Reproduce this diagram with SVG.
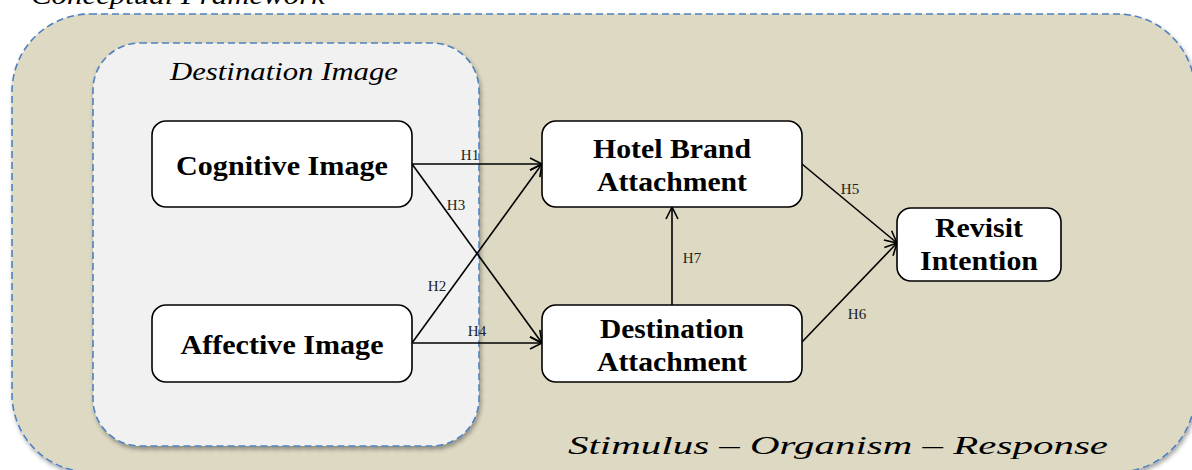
<svg xmlns="http://www.w3.org/2000/svg" width="1192" height="470" viewBox="0 0 1192 470" font-family="'Liberation Serif', 'Times New Roman', serif">
  <style>
    .frame { stroke: #4f81bd; stroke-width: 1.6; stroke-dasharray: 7 4; }
    .node { fill: #ffffff; stroke: #000000; stroke-width: 1.6; }
    .label { font-weight: bold; font-size: 27px; fill: #000000; text-anchor: middle; }
    .title { font-style: italic; font-size: 26px; fill: #000000; }
    .hyp { font-size: 15px; fill: #222222; text-anchor: middle; }
    .edge { stroke: #000000; stroke-width: 1.6; fill: none; marker-end: url(#arrow); }
  </style>
  <defs>
    <marker id="arrow" markerUnits="userSpaceOnUse" markerWidth="16" markerHeight="16" viewBox="0 0 16 16" refX="14" refY="8" orient="auto">
      <path d="M2,2 L14,8 L2,14" fill="none" stroke="#000000" stroke-width="1.6" stroke-linejoin="miter"/>
    </marker>
    <filter id="shadow" x="-5%" y="-5%" width="110%" height="112%">
      <feDropShadow dx="1.5" dy="3" stdDeviation="2" flood-color="#000000" flood-opacity="0.35"/>
    </filter>
  </defs>

  <rect width="1192" height="470" fill="#ffffff"/>

  <!-- page heading, clipped by the top edge -->
  <text class="title" x="31" y="4" textLength="294" lengthAdjust="spacingAndGlyphs">Conceptual Framework</text>

  <!-- S-O-R frame -->
  <g id="sor-frame">
    <rect class="frame" x="12" y="14" width="1183" height="458" rx="78" ry="78" fill="#ddd9c3" filter="url(#shadow)"/>
    <text class="title" x="568" y="454" textLength="540" lengthAdjust="spacingAndGlyphs">Stimulus – Organism – Response</text>
  </g>

  <!-- destination image group -->
  <g id="destination-image">
    <rect class="frame" x="93" y="43" width="386" height="403" rx="47" ry="47" fill="#f1f1f1" filter="url(#shadow)"/>
    <text class="title" x="170" y="80" textLength="228" lengthAdjust="spacingAndGlyphs">Destination Image</text>
  </g>

  <!-- connectors -->
  <g id="connectors">
    <line class="edge" x1="412" y1="164" x2="542" y2="164"/>
    <line class="edge" x1="412" y1="164" x2="542" y2="343"/>
    <line class="edge" x1="412" y1="343" x2="542" y2="164"/>
    <line class="edge" x1="412" y1="343" x2="542" y2="343"/>
    <line class="edge" x1="672" y1="305" x2="672" y2="207"/>
    <line class="edge" x1="802" y1="164" x2="897" y2="243"/>
    <line class="edge" x1="802" y1="342" x2="897" y2="243"/>
    <text class="hyp" x="470" y="160">H1</text>
    <text class="hyp" x="456" y="210">H3</text>
    <text class="hyp" x="437" y="291">H2</text>
    <text class="hyp" x="477" y="336">H4</text>
    <text class="hyp" x="692" y="263">H7</text>
    <text class="hyp" x="850" y="194">H5</text>
    <text class="hyp" x="857" y="319">H6</text>
  </g>

  <g id="cognitive-image">
    <rect class="node" x="152" y="121" width="260" height="86" rx="14" ry="14"/>
    <text class="label" x="282" y="175" textLength="212" lengthAdjust="spacingAndGlyphs">Cognitive Image</text>
  </g>

  <g id="affective-image">
    <rect class="node" x="152" y="305" width="260" height="77" rx="14" ry="14"/>
    <text class="label" x="282" y="354" textLength="203" lengthAdjust="spacingAndGlyphs">Affective Image</text>
  </g>

  <g id="hotel-brand-attachment">
    <rect class="node" x="542" y="121" width="260" height="86" rx="14" ry="14"/>
    <text class="label" x="672" y="158" textLength="158" lengthAdjust="spacingAndGlyphs">Hotel Brand</text>
    <text class="label" x="672" y="191" textLength="150" lengthAdjust="spacingAndGlyphs">Attachment</text>
  </g>

  <g id="destination-attachment">
    <rect class="node" x="542" y="305" width="260" height="77" rx="14" ry="14"/>
    <text class="label" x="672" y="338" textLength="144" lengthAdjust="spacingAndGlyphs">Destination</text>
    <text class="label" x="672" y="371" textLength="150" lengthAdjust="spacingAndGlyphs">Attachment</text>
  </g>

  <g id="revisit-intention">
    <rect class="node" x="897" y="208" width="164" height="73" rx="14" ry="14"/>
    <text class="label" x="979" y="237" textLength="88" lengthAdjust="spacingAndGlyphs">Revisit</text>
    <text class="label" x="979" y="270" textLength="118" lengthAdjust="spacingAndGlyphs">Intention</text>
  </g>
</svg>
